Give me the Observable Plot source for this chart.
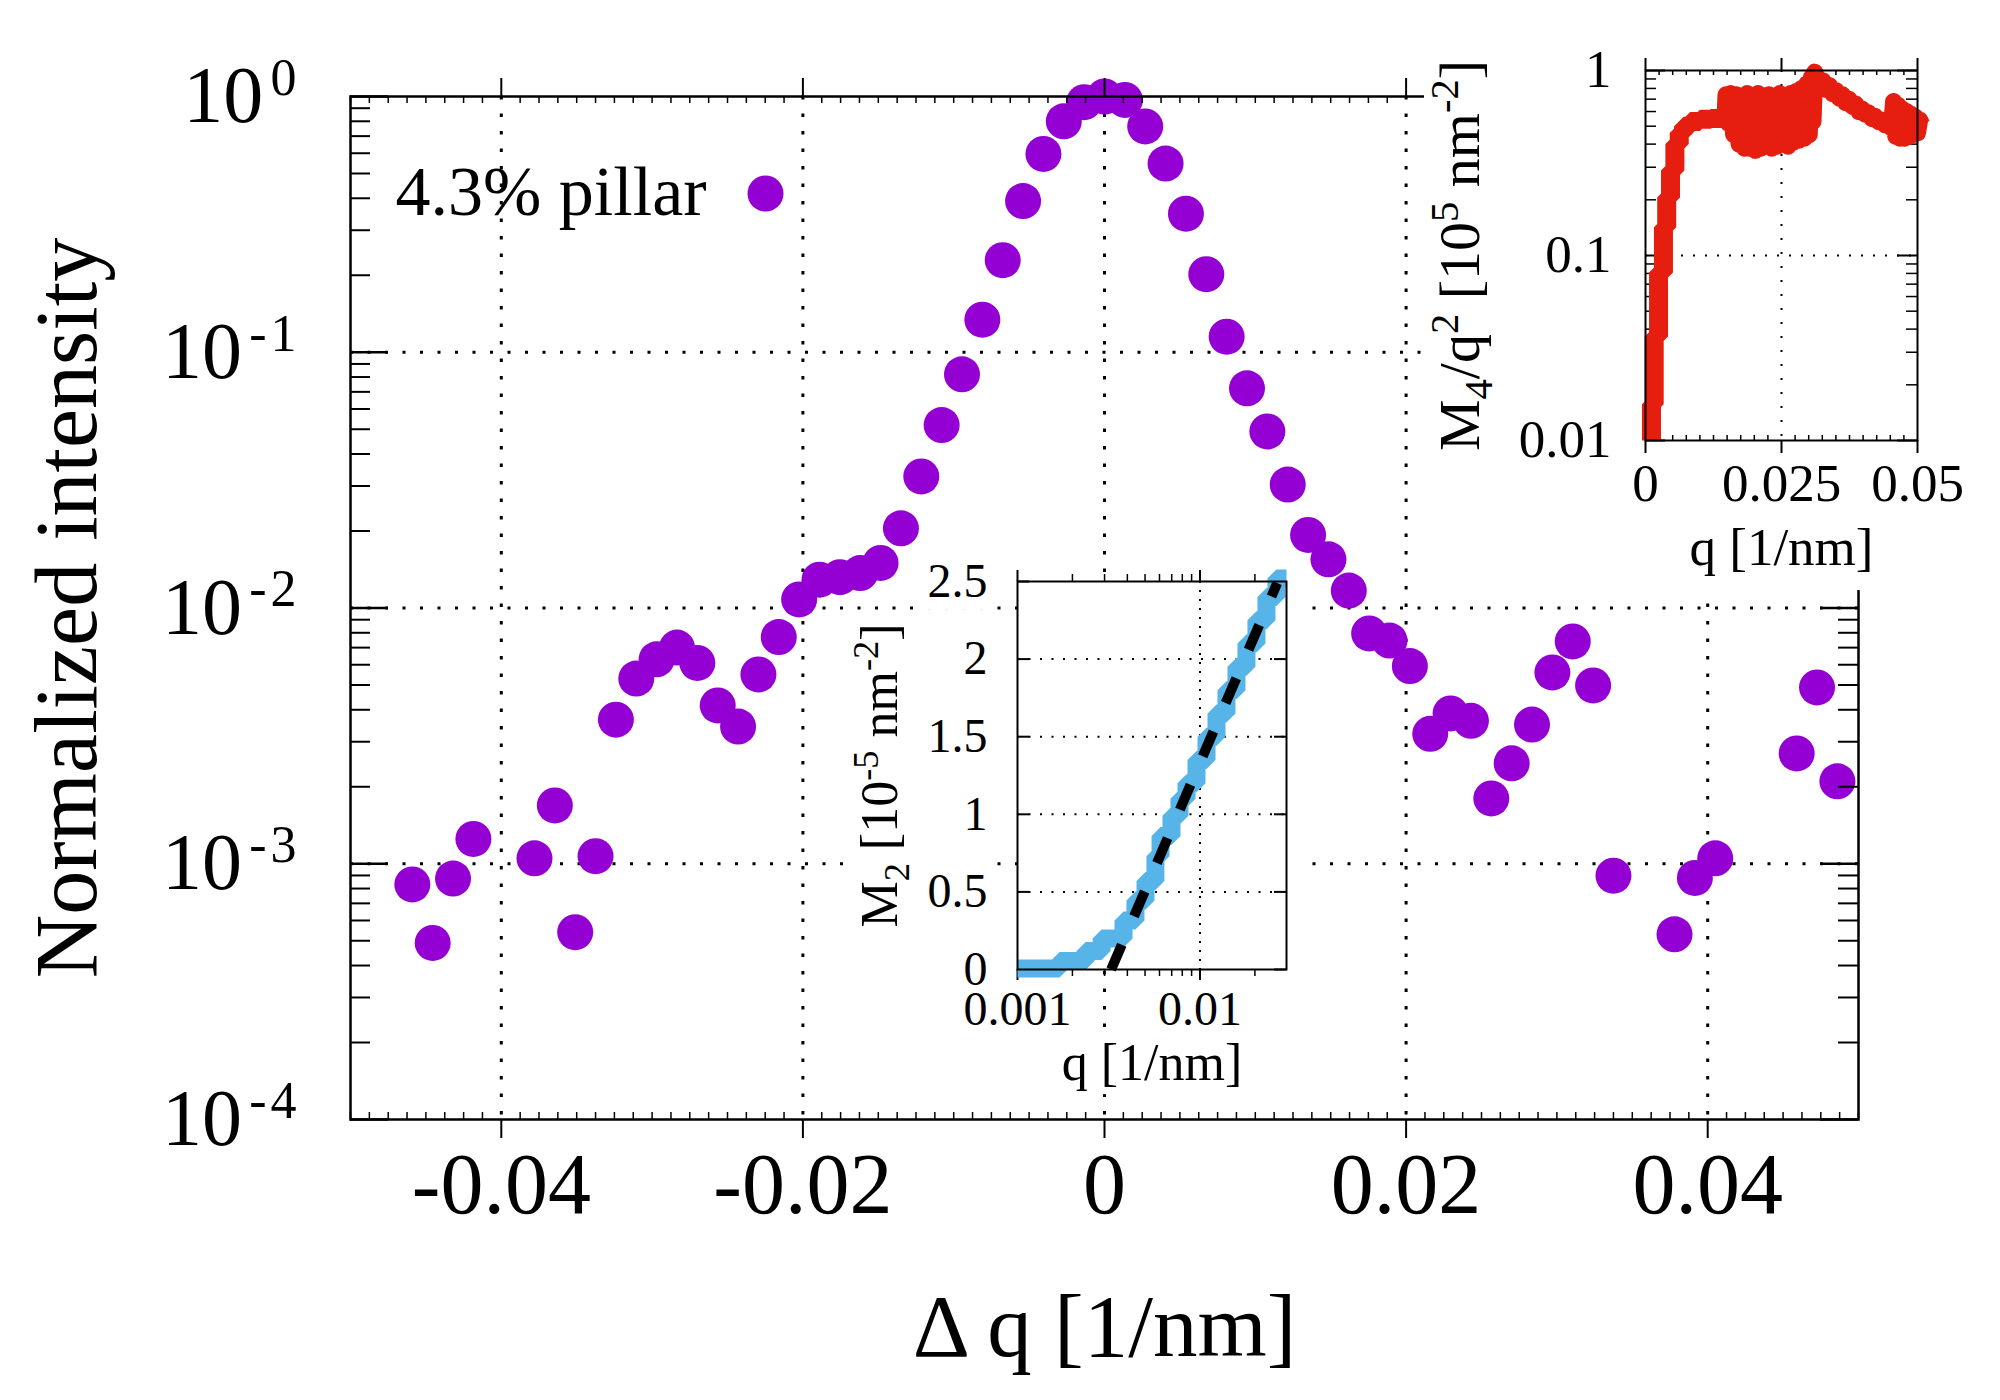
<!DOCTYPE html>
<html>
<head>
<meta charset="utf-8">
<script src="https://cdn.jsdelivr.net/npm/d3@7"></script>
<script src="https://cdn.jsdelivr.net/npm/@observablehq/plot@0.6"></script>
<style>
  html, body { margin: 0; padding: 0; background: white; }
  #chart { position: relative; width: 2000px; height: 1400px; overflow: hidden; }
  #chart svg { position: absolute; }
</style>
</head>
<body>
<div id="chart"></div>
<script>
// ---------- main panel: normalized intensity vs Δq ----------
const dq = [-0.0459, -0.04455, -0.0432, -0.04185, -0.0378, -0.03645, -0.0351, -0.03375, -0.0324, -0.03105,
  -0.0297, -0.02835, -0.027, -0.02565, -0.0243, -0.02295, -0.0216, -0.02025, -0.0189, -0.01755,
  -0.0162, -0.01485, -0.0135, -0.01215, -0.0108, -0.00945, -0.0081, -0.00675, -0.0054, -0.00405,
  -0.0027, -0.00135, 0, 0.00135, 0.0027, 0.00405, 0.0054, 0.00675, 0.0081, 0.00945,
  0.0108, 0.01215, 0.0135, 0.01485, 0.0162, 0.01755, 0.0189, 0.02025, 0.0216, 0.02295,
  0.0243, 0.02565, 0.027, 0.02835, 0.0297, 0.03105, 0.0324, 0.03375, 0.0378, 0.03915,
  0.0405, 0.0459, 0.04725, 0.0486];
const intensity = [8.3e-4, 4.9e-4, 8.75e-4, 1.25e-3, 1.05e-3, 1.69e-3, 5.4e-4, 1.07e-3, 3.66e-3, 5.3e-3,
  6.3e-3, 7.0e-3, 6.1e-3, 4.16e-3, 3.44e-3, 5.5e-3, 7.7e-3, 0.0108, 0.0129, 0.0132,
  0.0137, 0.0150, 0.0205, 0.0327, 0.0519, 0.082, 0.134, 0.229, 0.39, 0.596,
  0.80, 0.95, 1.0, 0.97, 0.764, 0.547, 0.348, 0.202, 0.115, 0.0723,
  0.049, 0.0304, 0.0193, 0.0155, 0.0117, 7.95e-3, 7.46e-3, 5.93e-3, 3.22e-3, 3.87e-3,
  3.62e-3, 1.80e-3, 2.47e-3, 3.5e-3, 5.6e-3, 7.4e-3, 4.98e-3, 8.98e-4, 5.3e-4, 8.8e-4,
  1.05e-3, 2.7e-3, 4.89e-3, 2.1e-3];
const seriesLabel = "4.3% pillar";
const mainTicksX = [-0.04, -0.02, 0, 0.02, 0.04];
const mainTicksY = [1e-4, 1e-3, 1e-2, 1e-1, 1];
const mainLabelX = "Δ q [1/nm]";
const mainLabelY = "Normalized intensity";

// ---------- lower inset: M2 vs q (log q) ----------
const qM2 = [0.00100, 0.00170, 0.00236, 0.00289, 0.00381, 0.00443, 0.00503, 0.00570, 0.00608, 0.00698,
  0.00772, 0.00844, 0.00957, 0.01086, 0.01232, 0.01397, 0.01585, 0.01798, 0.02040, 0.02314,
  0.02625, 0.0298];
const m2 = [0.006, 0.055, 0.12, 0.2, 0.315, 0.445, 0.57, 0.73, 0.86, 0.99,
  1.10, 1.2, 1.35, 1.5, 1.65, 1.8, 1.95, 2.1, 2.25, 2.4,
  2.52, 2.52];
const fitQ = [0.00326, 0.0265];
const fitM2 = [0, 2.49];
const m2TicksX = [0.001, 0.01];
const m2TicksY = [0, 0.5, 1, 1.5, 2, 2.5];
const m2LabelX = "q [1/nm]";
const m2LabelY = "M_{2} [10^{-5} nm^{-2}]";

// ---------- upper inset: M4/q² vs q (log M4/q²) ----------
// steep onset (drawn as a staircase)
const qM4rise = [0.0011, 0.0011, 0.0016, 0.0024, 0.0033, 0.0039, 0.0046, 0.0054, 0.0062, 0.0070,
  0.0082, 0.0100, 0.0120, 0.0146];
const m4rise = [0.0100, 0.0157, 0.0365, 0.081, 0.142, 0.206, 0.288, 0.40, 0.46, 0.50,
  0.53, 0.545, 0.55, 0.55];
// noisy plateau, peak and decay
const qM4 = [0.0146, 0.0148, 0.0152, 0.0157, 0.0162, 0.0167, 0.0172, 0.0177, 0.0182, 0.0187,
  0.0192, 0.0197, 0.0202, 0.0207, 0.0212, 0.0217, 0.0222, 0.0227, 0.0232, 0.0237,
  0.0242, 0.0247, 0.0252, 0.0257, 0.0262, 0.0267, 0.0272, 0.0277, 0.0282, 0.0287,
  0.0292, 0.0297, 0.0301, 0.0305, 0.0308, 0.0311, 0.0315, 0.0320, 0.0326, 0.0332,
  0.0338, 0.0344, 0.0350, 0.0356, 0.0362, 0.0368, 0.0374, 0.0380, 0.0386, 0.0392,
  0.0398, 0.0404, 0.0410, 0.0416, 0.0422, 0.0428, 0.0434, 0.0440, 0.0446, 0.0452,
  0.0456, 0.0460, 0.0464, 0.0468, 0.0472, 0.0476, 0.0480, 0.0484, 0.0488, 0.0492,
  0.0496, 0.0500, 0.0504, 0.0508];
const m4 = [0.55, 0.74, 0.52, 0.75, 0.45, 0.74, 0.40, 0.73, 0.38, 0.75,
  0.38, 0.72, 0.37, 0.75, 0.38, 0.73, 0.39, 0.74, 0.38, 0.72,
  0.39, 0.75, 0.40, 0.73, 0.39, 0.75, 0.41, 0.77, 0.42, 0.80,
  0.43, 0.85, 0.45, 0.92, 0.53, 0.98, 0.92, 0.83, 0.88, 0.79,
  0.83, 0.75, 0.78, 0.71, 0.74, 0.67, 0.70, 0.64, 0.66, 0.60,
  0.62, 0.58, 0.59, 0.55, 0.565, 0.53, 0.54, 0.51, 0.515, 0.49,
  0.68, 0.44, 0.65, 0.43, 0.62, 0.43, 0.60, 0.44, 0.58, 0.45,
  0.56, 0.46, 0.54, 0.51];
const m4TicksX = [0, 0.025, 0.05];
const m4TicksY = [0.01, 0.1, 1];
const m4LabelX = "q [1/nm]";
const m4LabelY = "M_{4}/q^{2} [10^{5} nm^{-2}]";

// ---------- shared styling ----------
const FONT = "Liberation Serif, Times New Roman, serif";
const VIOLET = "#9400d3", SKY = "#56b4e9", RED = "#e51e10";
const dotted = (dash, w) => ({stroke: "black", strokeOpacity: 1, strokeDasharray: dash, strokeWidth: w});

// minor tick positions for log axes (2..9 within each decade)
function logMinors(lo, hi) {
  const out = [];
  for (let e = Math.round(Math.log10(lo)); e < Math.round(Math.log10(hi)); e++)
    for (let k = 2; k <= 9; k++) out.push(k * Math.pow(10, e));
  return out;
}
// minor tick positions for linear axes, skipping the labelled ones
function linMinors(lo, hi, step, majors) {
  const out = [];
  const n = Math.round((hi - lo) / step);
  for (let i = 0; i <= n; i++) {
    const v = +(lo + i * step).toFixed(6);
    if (!majors.some(m => Math.abs(m - v) < step / 10)) out.push(v);
  }
  return out;
}

// ticks drawn as short rules hugging the frame edges
function edgeTicksX(values, frameH, len, side, outward, w) {
  const o = {stroke: "black", strokeWidth: w};
  if (side === "bottom") return Plot.ruleX(values, outward ? {...o, insetTop: frameH, insetBottom: -len} : {...o, insetTop: frameH - len});
  return Plot.ruleX(values, outward ? {...o, insetBottom: frameH, insetTop: -len} : {...o, insetBottom: frameH - len});
}
function edgeTicksY(values, frameW, len, side, w) {
  const o = {stroke: "black", strokeWidth: w};
  if (side === "left") return Plot.ruleY(values, {...o, insetRight: frameW - len});
  return Plot.ruleY(values, {...o, insetLeft: frameW - len});
}

// turn "^{..}" / "_{..}" markup into raised / lowered tspans
const NS = "http://www.w3.org/2000/svg";
function richify(svg, {size = 0.7, up = 0.36, down = 0.22, gap = 0, spacing = 0} = {}) {
  svg.querySelectorAll("text").forEach(t => {
    const src = t.textContent;
    if (!/[\^_]\{/.test(src)) return;
    const base = parseFloat(getComputedStyle(t).fontSize);
    const parts = [];
    const re = /([\^_])\{([^}]*)\}|([^\^_]+)/g;
    let m;
    while ((m = re.exec(src))) {
      if (m[3] !== undefined) parts.push({s: m[3], k: 0});
      else parts.push({s: m[2], k: m[1] === "^" ? 1 : -1});
    }
    while (t.firstChild) t.removeChild(t.firstChild);
    let shift = 0;
    for (const p of parts) {
      const ts = document.createElementNS(NS, "tspan");
      const target = p.k === 1 ? -up * base : p.k === -1 ? down * base : 0;
      const d = target - shift;
      if (Math.abs(d) > 1e-6) ts.setAttribute("dy", d);
      shift = target;
      if (p.k) {
        ts.setAttribute("font-size", size * base);
        if (gap) ts.setAttribute("dx", gap * base);
        if (spacing) ts.setAttribute("letter-spacing", spacing);
      }
      ts.textContent = p.s;
      t.appendChild(ts);
    }
  });
}
// white boxes behind the texts of a panel, so it hides what lies beneath it
function knockout(svg, pad) {
  const g = document.createElementNS(NS, "g");
  const inv = svg.getScreenCTM().inverse();
  svg.querySelectorAll("text").forEach(t => {
    const bb = t.getBBox();
    const m = inv.multiply(t.getScreenCTM());
    const r = document.createElementNS(NS, "rect");
    r.setAttribute("x", bb.x - pad);
    r.setAttribute("y", bb.y - pad);
    r.setAttribute("width", bb.width + 2 * pad);
    r.setAttribute("height", bb.height + 2 * pad);
    r.setAttribute("fill", "white");
    r.setAttribute("transform", `matrix(${m.a},${m.b},${m.c},${m.d},${m.e},${m.f})`);
    g.appendChild(r);
  });
  const first = svg.querySelector('[aria-label="frame"]');
  svg.insertBefore(g, first ? first.nextSibling : svg.firstChild);
}

const chart = document.getElementById("chart");
function place(svg, left, top) {
  svg.style.left = left + "px";
  svg.style.top = top + "px";
  chart.appendChild(svg);
  return svg;
}

// ---------- main panel ----------
{
  const W = 2000, H = 1400, mL = 350, mR = 142, mT = 96, mB = 281;
  const fw = W - mL - mR, fh = H - mT - mB;
  const xMinor = linMinors(-0.05, 0.05, 0.00125, mainTicksX);
  const yMinor = logMinors(1e-4, 1);
  const svg = Plot.plot({
    width: W, height: H,
    marginLeft: mL, marginRight: mR, marginTop: mT, marginBottom: mB,
    x: {domain: [-0.05, 0.05]},
    y: {type: "log", domain: [1e-4, 1]},
    style: {fontFamily: FONT, color: "black", background: "white", overflow: "visible"},
    marks: [
      Plot.gridX(mainTicksX.filter(d => d > -0.05 && d < 0.05), dotted("3.5,14", 3)),
      Plot.gridY(mainTicksY.filter(d => d > 1e-4 && d < 1), dotted("3,14.5", 3)),
      Plot.dot(intensity, {x: dq, y: intensity, r: 18, fill: VIOLET}),
      edgeTicksY(mainTicksY, fw, 38, "left", 2.5),
      edgeTicksY(yMinor, fw, 20, "left", 2),
      edgeTicksY(mainTicksY, fw, 38, "right", 2.5),
      edgeTicksY(yMinor, fw, 20, "right", 2),
      edgeTicksX(mainTicksX, fh, 19, "bottom", true, 2),
      edgeTicksX(mainTicksX, fh, 18, "top", true, 2),
      edgeTicksX(xMinor, fh, 7, "bottom", false, 1.5),
      edgeTicksX(xMinor, fh, 7, "top", false, 1.5),
      Plot.frame({stroke: "black", strokeWidth: 2.5}),
      Plot.axisX(mainTicksX, {tickSize: 0, tickPadding: 32, fontSize: 86, tickFormat: d => String(d), label: null}),
      Plot.axisY(mainTicksY, {tickSize: 0, tickPadding: 50, fontSize: 80,
        tickFormat: d => `10^{${Math.round(Math.log10(d))}}`, label: null}),
      Plot.text([mainLabelX], {text: d => d, frameAnchor: "bottom", dy: 208, lineAnchor: "middle", fontSize: 89}),
      Plot.text([mainLabelY], {text: d => d, frameAnchor: "left", dx: -283, rotate: -90,
        textAnchor: "middle", lineAnchor: "middle", fontSize: 88}),
      // legend entry
      Plot.text([seriesLabel], {text: d => d, frameAnchor: "top-left", dx: 45, dy: 96, textAnchor: "start", lineAnchor: "middle", fontSize: 70}),
      Plot.dot([seriesLabel], {frameAnchor: "top-left", dx: 415, dy: 97, r: 18, fill: VIOLET})
    ]
  });
  place(svg, 0, 0);
  richify(svg, {size: 0.65, up: 0.34, gap: 0.09, spacing: 4});
}

// ---------- lower inset: M2 ----------
{
  const W = 520, H = 560, mL = 217, mR = 34, mT = 41, mB = 131;
  const fw = W - mL - mR, fh = H - mT - mB;
  const xMinor = logMinors(0.001, 0.1).filter(d => d < 0.0298 && d !== 0.01);
  const svg = Plot.plot({
    width: W, height: H,
    marginLeft: mL, marginRight: mR, marginTop: mT, marginBottom: mB,
    x: {type: "log", domain: [0.001, 0.0298]},
    y: {domain: [0, 2.5]},
    style: {fontFamily: FONT, color: "black", background: "transparent", overflow: "visible"},
    marks: [
      Plot.frame({fill: "white", stroke: null, insetRight: -14, insetTop: -4}),
      Plot.gridX([0.01], dotted("2,7", 2)),
      Plot.gridY([0.5, 1, 1.5, 2], dotted("2,9.5", 2)),
      edgeTicksY(m2TicksY, fw, 12, "left", 2),
      edgeTicksY(m2TicksY, fw, 12, "right", 2),
      edgeTicksX(xMinor, fh, 7, "bottom", true, 1.5),
      edgeTicksX(xMinor, fh, 7, "top", true, 1.5),
      edgeTicksX(m2TicksX, fh, 11, "bottom", true, 2),
      edgeTicksX(m2TicksX, fh, 11, "top", true, 2),
      Plot.line(m2, {x: qM2, y: m2, curve: "step-after", stroke: SKY, strokeWidth: 18, strokeLinecap: "butt", strokeLinejoin: "miter"}),
      Plot.line(fitM2, {x: fitQ, y: fitM2, stroke: "black", strokeWidth: 10, strokeDasharray: "27,31", strokeLinecap: "butt"}),
      Plot.frame({stroke: "black", strokeWidth: 2}),
      Plot.axisX(m2TicksX, {tickSize: 0, tickPadding: 21, fontSize: 48, tickFormat: d => String(d), label: null}),
      Plot.axisY(m2TicksY, {tickSize: 0, tickPadding: 30, fontSize: 48, tickFormat: d => String(d), label: null}),
      Plot.text([m2LabelX], {text: d => d, frameAnchor: "bottom", dy: 94, lineAnchor: "middle", fontSize: 52}),
      Plot.text([m2LabelY], {text: d => d, frameAnchor: "left", dx: -137, rotate: -90,
        textAnchor: "middle", lineAnchor: "middle", fontSize: 52})
    ]
  });
  place(svg, 800, 540);
  richify(svg);
  knockout(svg, 3);
}

// ---------- upper inset: M4/q² ----------
{
  const W = 576, H = 590, mL = 221, mR = 83, mT = 70, mB = 150;
  const fw = W - mL - mR, fh = H - mT - mB;
  const yMinor = logMinors(0.01, 1);
  const xMinor = linMinors(0, 0.05, 0.0025, m4TicksX);
  const svg = Plot.plot({
    width: W, height: H,
    marginLeft: mL, marginRight: mR, marginTop: mT, marginBottom: mB,
    x: {domain: [0, 0.05]},
    y: {type: "log", domain: [0.01, 1]},
    style: {fontFamily: FONT, color: "black", background: "white", overflow: "visible"},
    marks: [
      Plot.gridX([0.025], dotted("2,12", 2)),
      Plot.gridY([0.1], dotted("2,10", 2)),
      edgeTicksY(m4TicksY, fw, 20, "left", 2),
      edgeTicksY(yMinor, fw, 11, "left", 1.5),
      edgeTicksY(m4TicksY, fw, 20, "right", 2),
      edgeTicksY(yMinor, fw, 11, "right", 1.5),
      edgeTicksX(m4TicksX, fh, 13, "bottom", true, 2),
      edgeTicksX(m4TicksX, fh, 12, "top", true, 2),
      edgeTicksX(xMinor, fh, 5, "bottom", false, 1.5),
      edgeTicksX(xMinor, fh, 5, "top", false, 1.5),
      Plot.line(m4rise, {x: qM4rise, y: m4rise, curve: "step-after", stroke: RED, strokeWidth: 19, strokeLinecap: "butt", strokeLinejoin: "miter"}),
      Plot.line(m4, {x: qM4, y: m4, stroke: RED, strokeWidth: 17, strokeLinecap: "butt", strokeLinejoin: "round"}),
      Plot.frame({stroke: "black", strokeWidth: 2}),
      Plot.axisX(m4TicksX, {tickSize: 0, tickPadding: 23, fontSize: 53, tickFormat: d => String(d), label: null}),
      Plot.axisY(m4TicksY, {tickSize: 0, tickPadding: 34, fontSize: 53, tickFormat: d => String(d), label: null}),
      Plot.text([m4LabelX], {text: d => d, frameAnchor: "bottom", dy: 108, lineAnchor: "middle", fontSize: 53}),
      Plot.text([m4LabelY], {text: d => d, frameAnchor: "left", dx: -185, rotate: -90,
        textAnchor: "middle", lineAnchor: "middle", fontSize: 58})
    ]
  });
  place(svg, 1424, 0);
  richify(svg);
}
</script>
</body>
</html>
